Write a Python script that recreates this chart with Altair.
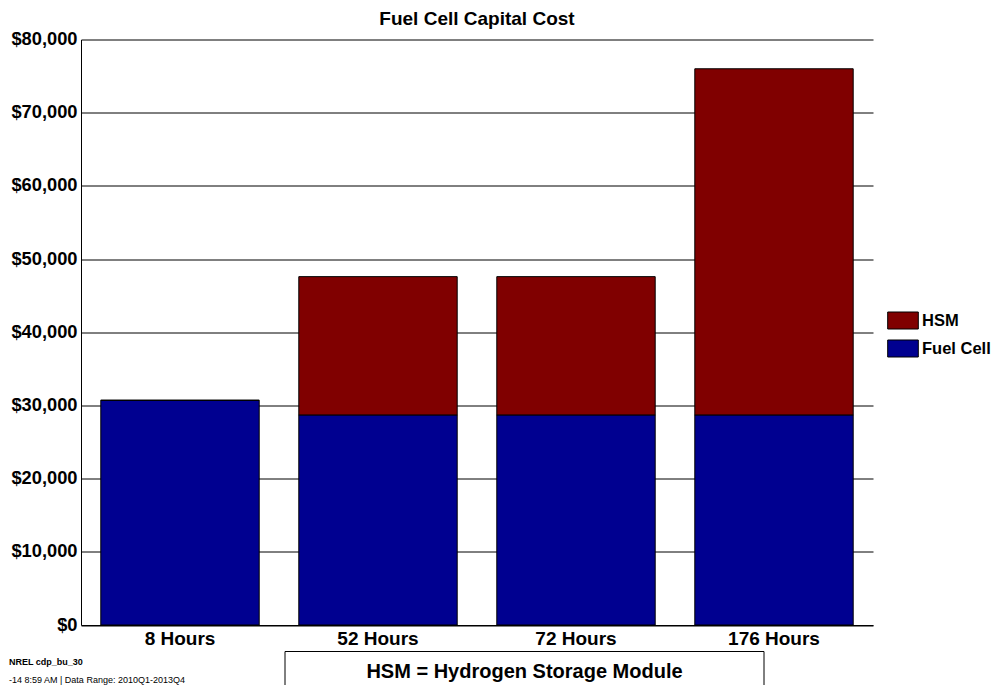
import altair as alt
import pandas as pd

# ---- data ----
categories = ["8 Hours", "52 Hours", "72 Hours", "176 Hours"]
fuel_cell = [30700, 28700, 28700, 28700]
hsm = [0, 18900, 18900, 47300]
series = ["HSM", "Fuel Cell"]
colors = ["#800000", "#000090"]
title_text = "Fuel Cell Capital Cost"
note_text = "HSM = Hydrogen Storage Module"
footer1 = "NREL cdp_bu_30"
footer2 = "-14  8:59 AM | Data Range: 2010Q1-2013Q4"

rows = []
for c, f, h in zip(categories, fuel_cell, hsm):
    rows.append({"cat": c, "series": "Fuel Cell", "value": f, "ord": 0})
    rows.append({"cat": c, "series": "HSM", "value": h, "ord": 1})
df = pd.DataFrame(rows)

FONT = "Liberation Sans"

bars = alt.Chart(df).mark_bar(stroke="black", strokeWidth=1).encode(
    x=alt.X("cat:N", sort=categories,
            scale=alt.Scale(paddingInner=0.2, paddingOuter=0.1),
            axis=alt.Axis(title=None, labelAngle=0, labelFontSize=19,
                          labelFontWeight="bold", labelColor="black",
                          ticks=False, domainColor="black", domainWidth=1,
                          labelPadding=4, grid=False, labelFont=FONT)),
    y=alt.Y("value:Q", stack="zero",
            scale=alt.Scale(domain=[0, 80000], nice=False),
            axis=alt.Axis(title=None, format="$,.0f",
                          values=[0, 10000, 20000, 30000, 40000, 50000, 60000, 70000, 80000],
                          labelFontSize=18.3, labelFontWeight="bold", labelColor="black",
                          ticks=False, domainColor="black", domainWidth=1,
                          gridColor="black", gridWidth=1, gridOpacity=1,
                          labelPadding=4, labelFont=FONT)),
    color=alt.Color("series:N",
                    scale=alt.Scale(domain=series, range=colors),
                    legend=alt.Legend(title=None, orient="none",
                                      legendX=813, legendY=272,
                                      symbolType="M-1.8,-1H1.8V1H-1.8Z",
                                      symbolSize=289,
                                      symbolStrokeColor="black",
                                      symbolStrokeWidth=1,
                                      symbolOpacity=1,
                                      labelFontSize=16.5, labelFontWeight="bold",
                                      labelColor="black", labelFont=FONT,
                                      labelOffset=10, rowPadding=6, padding=0)),
    order=alt.Order("ord:Q", sort="ascending"),
)

note_df = pd.DataFrame({"t": [note_text]})
box = alt.Chart(note_df).mark_rect(fill="white", stroke="black", strokeWidth=1).encode(
    x=alt.value(204), x2=alt.value(683), y=alt.value(612), y2=alt.value(720)
)
note = alt.Chart(note_df).mark_text(font=FONT, fontSize=20, fontWeight="bold",
                                    color="black", align="center", baseline="middle").encode(
    x=alt.value(443.5), y=alt.value(632.5), text="t:N"
)
f1 = alt.Chart(pd.DataFrame({"t": [footer1]})).mark_text(
    font=FONT, fontSize=9, fontWeight="bold", color="black",
    align="left", baseline="middle").encode(
    x=alt.value(-72), y=alt.value(622), text="t:N")
f2 = alt.Chart(pd.DataFrame({"t": [footer2]})).mark_text(
    font=FONT, fontSize=9, color="black",
    align="left", baseline="middle").encode(
    x=alt.value(-72), y=alt.value(640.5), text="t:N")

chart = alt.layer(bars, box, note, f1, f2).properties(
    width=792, height=585.5,
    title=alt.TitleParams(title_text, font=FONT, fontSize=19, fontWeight="bold",
                          color="black", anchor="middle", offset=1),
    autosize=alt.AutoSizeParams(type="none"),
    padding={"left": 73, "top": 31.5, "right": 122, "bottom": 68},
    background="white",
).configure_view(stroke=None)

chart.save("out.html", embed_options={"renderer": "svg", "actions": False})
